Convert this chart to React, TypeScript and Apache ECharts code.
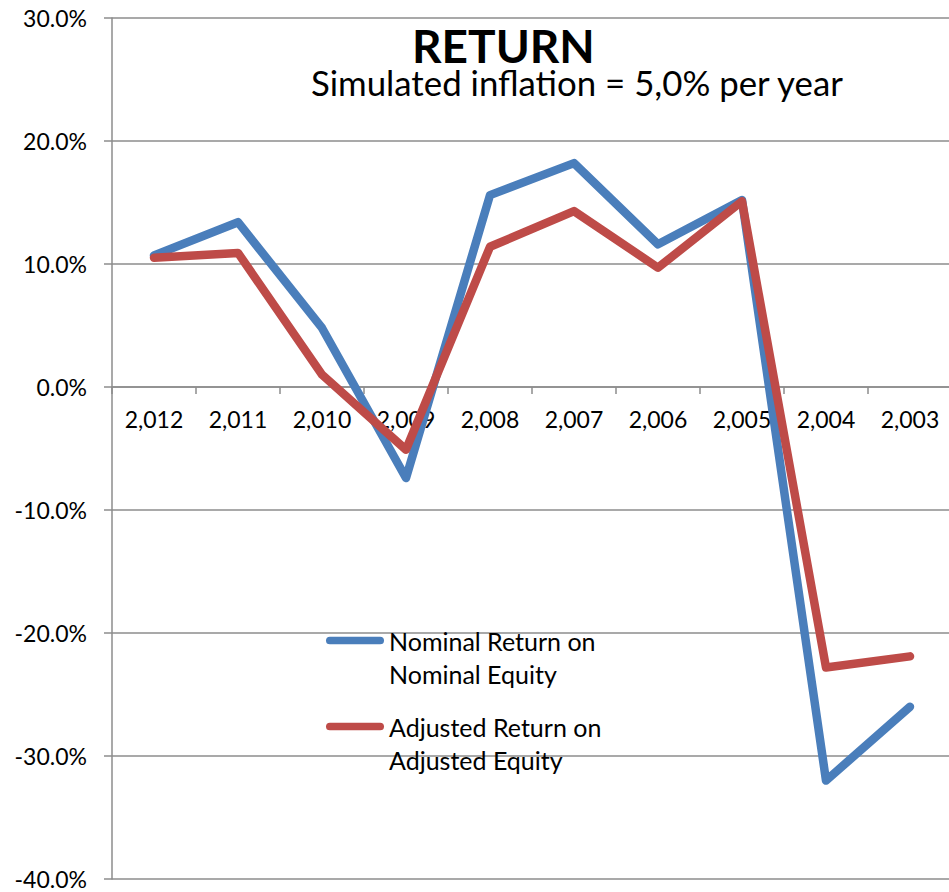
import React, { useEffect, useRef } from "react";
import * as echarts from "echarts";

const categories = ["2,012", "2,011", "2,010", "2,009", "2,008", "2,007", "2,006", "2,005", "2,004", "2,003"];
const nominalReturn = [10.7, 13.4, 4.8, -7.4, 15.6, 18.2, 11.6, 15.2, -32.0, -26.0];
const adjustedReturn = [10.5, 10.9, 1.0, -5.1, 11.4, 14.3, 9.7, 15.1, -22.8, -21.9];
const seriesNames = ["Nominal Return on\nNominal Equity", "Adjusted Return on\nAdjusted Equity"];
const titleText = "RETURN";
const subtitleText = "Simulated inflation = 5,0% per year";

const FONT = "Lato";
const BLUE = "#4A7EBB";
const RED = "#BE4B48";
const GRID = "#8C8C8C";
const ICON = "path://M4,0 H56 A4,4 0 0 1 56,8 H4 A4,4 0 0 1 4,0 Z";

const GRID_TOP = 18;
const GRID_HEIGHT = 861;
const Y_MIN = -40;
const Y_MAX = 30;

export default function App() {
  const ref = useRef<HTMLDivElement>(null);
  useEffect(() => {
    document.body.style.margin = "0";
    const chart = echarts.init(ref.current!, null, { renderer: "svg" });
    const legendText = {
      fontFamily: FONT,
      fontSize: 25,
      color: "#000",
      lineHeight: 33,
    };
    const legendBase = {
      left: 326,
      padding: 0,
      itemWidth: 58,
      itemHeight: 9,
      icon: ICON,
      textStyle: legendText,
      formatter: (name: string) => "\n" + name,
    };
    // move the category axis up to the zero line of the value axis
    const zeroOffset = -GRID_HEIGHT * (0 - Y_MIN) / (Y_MAX - Y_MIN);
    chart.setOption({
      animation: false,
      backgroundColor: "#fff",
      title: [
        {
          text: titleText,
          left: 412,
          top: 22,
          padding: 0,
          textStyle: { fontFamily: FONT, fontSize: 46, fontWeight: "bold", color: "#000" },
        },
        {
          text: subtitleText,
          left: 311,
          top: 65,
          padding: 0,
          textStyle: { fontFamily: FONT, fontSize: 34.8, fontWeight: "normal", color: "#000" },
        },
      ],
      legend: [
        { ...legendBase, data: [seriesNames[0]], top: 591 },
        { ...legendBase, data: [seriesNames[1]], top: 677 },
      ],
      grid: { left: 112, top: GRID_TOP, width: 840, height: GRID_HEIGHT, containLabel: false, outerBoundsMode: "none" },
      xAxis: {
        type: "category",
        data: categories,
        boundaryGap: true,
        position: "bottom",
        offset: zeroOffset,
        axisLine: { show: true, onZero: false, lineStyle: { color: GRID, width: 1.5 } },
        axisTick: { show: true, length: 7, alignWithLabel: false, interval: 0, lineStyle: { color: GRID, width: 1.5 } },
        axisLabel: { interval: 0, margin: 20, fontFamily: FONT, fontSize: 23, color: "#000" },
        splitLine: { show: false },
      },
      yAxis: {
        type: "value",
        min: Y_MIN,
        max: Y_MAX,
        interval: 10,
        axisLine: { show: true, onZero: false, lineStyle: { color: GRID, width: 1.5 } },
        axisTick: { show: true, length: 8, lineStyle: { color: GRID, width: 1.5 } },
        axisLabel: {
          margin: 25,
          fontFamily: FONT,
          fontSize: 23,
          color: "#000",
          formatter: (v: number) => v.toFixed(1) + "%",
        },
        splitLine: { show: true, lineStyle: { color: GRID, width: 1.5 } },
      },
      series: [
        {
          name: seriesNames[0],
          type: "line",
          data: nominalReturn,
          symbol: "none",
          color: BLUE,
          lineStyle: { width: 8.5, color: BLUE, cap: "round", join: "round" },
        },
        {
          name: seriesNames[1],
          type: "line",
          data: adjustedReturn,
          symbol: "none",
          color: RED,
          lineStyle: { width: 8.5, color: RED, cap: "round", join: "round" },
        },
      ],
    });
    return () => chart.dispose();
  }, []);
  return <div ref={ref} style={{ width: 949, height: 892 }} />;
}
